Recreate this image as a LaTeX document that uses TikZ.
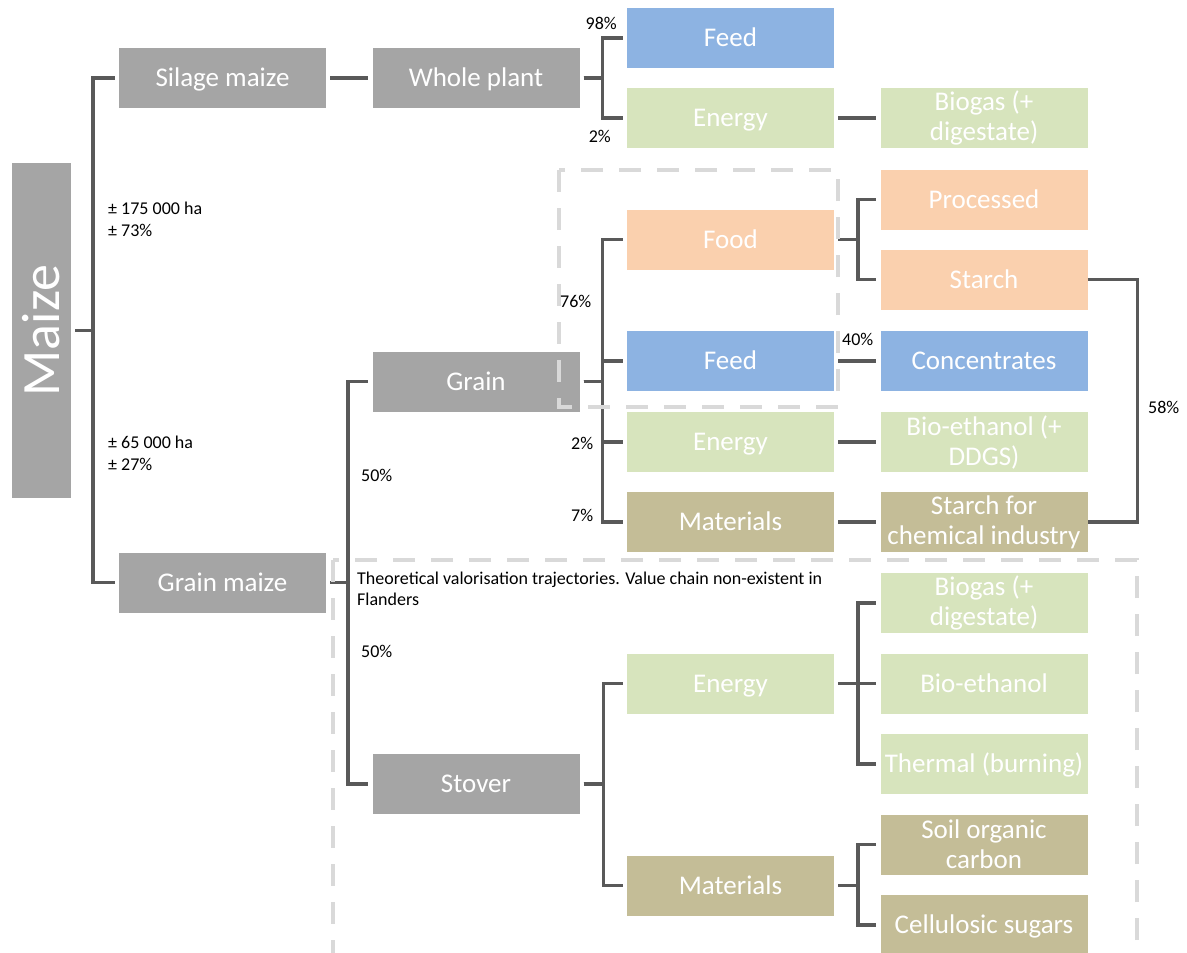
\documentclass[tikz,border=0pt]{standalone}
\usepackage{fontspec}
\setmainfont{Carlito}
\definecolor{boxgray}{HTML}{A5A5A5}
\definecolor{boxblue}{HTML}{8DB3E2}
\definecolor{boxgreen}{HTML}{D7E4BD}
\definecolor{boxorange}{HTML}{FAD0AE}
\definecolor{boxtan}{HTML}{C4BD97}
\definecolor{linegray}{HTML}{595959}
\definecolor{dashgray}{HTML}{D9D9D9}
\begin{document}
\begin{tikzpicture}[x=1pt,y=-1pt,
  boxbase/.style={minimum width=207pt, minimum height=60pt, inner sep=0pt, text=white, align=center, font=\fontsize{27}{30}\selectfont},
  box/.style={boxbase, text height=17.4pt, text depth=0pt},
  boxtwo/.style={boxbase},
  gray/.style={fill=boxgray},
  blue/.style={fill=boxblue},
  green/.style={fill=boxgreen},
  orange/.style={fill=boxorange},
  tan/.style={fill=boxtan},
  conn/.style={draw=linegray, line width=3.5pt, shorten <=4pt, shorten >=4pt},
  lbl/.style={font=\fontsize{18}{22}\selectfont, text=black, inner sep=0pt, align=left},
  zone/.style={draw=dashgray, line width=4.5pt, dash pattern=on 22pt off 16pt}]
\useasboundingbox (0,0) rectangle (1187,953);

% Maize
\node[fill=boxgray, minimum width=59pt, minimum height=335pt, inner sep=0pt] (maize) at (41.5,330.5) {};
\node[rotate=90, text=white, font=\fontsize{54}{60}\selectfont, inner sep=0pt] (maizelabel) at (maize.center) {Maize};

% column 1
\node[box,gray] (silage) at (222.5,78) {Silage maize};
\node[box,gray] (grainmaize) at (222.5,582.5) {Grain maize};

% column 2
\node[box,gray] (whole) at (476,78) {Whole plant};
\node[box,gray] (grain) at (476,381.5) {Grain};
\node[box,gray] (stover) at (476,784) {Stover};

% column 3
\node[box,blue] (feed1) at (730.5,38) {Feed};
\node[box,green] (energy1) at (730.5,118) {Energy};
\node[box,orange] (food) at (730.5,239.5) {Food};
\node[box,blue] (feed2) at (730.5,361) {Feed};
\node[box,green] (energy2) at (730.5,442) {Energy};
\node[box,tan] (mat1) at (730.5,522) {Materials};
\node[box,green] (energy3) at (730.5,683.5) {Energy};
\node[box,tan] (mat2) at (730.5,885.5) {Materials};

% column 4
\node[boxtwo,green] (biogas1) at (984,118) {Biogas (+\\digestate)};
\node[box,orange] (processed) at (984,199.5) {Processed};
\node[box,orange] (starch) at (984,279.5) {Starch};
\node[box,blue] (conc) at (984,361) {Concentrates};
\node[boxtwo,green] (bioeth2) at (984,442) {Bio-ethanol (+\\DDGS)};
\node[boxtwo,tan] (starchchem) at (984,522) {Starch for\\chemical industry};
\node[boxtwo,green] (biogas3) at (984,603) {Biogas (+\\digestate)};
\node[box,green] (bioeth3) at (984,683.5) {Bio-ethanol};
\node[box,green] (thermal) at (984,764) {Thermal (burning)};
\node[boxtwo,tan] (soil) at (984,844.5) {Soil organic\\carbon};
\node[box,tan] (cellu) at (984,925) {Cellulosic sugars};

% connectors
\draw[conn] (maize.east) -- ++(22,0) |- (silage.west);
\draw[conn] (maize.east) -- ++(22,0) |- (grainmaize.west);
\draw[conn] (silage.east) -- (whole.west);
\draw[conn] (whole.east) -- ++(23,0) |- (feed1.west);
\draw[conn] (whole.east) -- ++(23,0) |- (energy1.west);
\draw[conn] (energy1.east) -- (biogas1.west);
\draw[conn] (food.east) -- ++(24,0) |- (processed.west);
\draw[conn] (food.east) -- ++(24,0) |- (starch.west);
\draw[conn] (grain.east) -- ++(23,0) |- (food.west);
\draw[conn] (grain.east) -- ++(23,0) |- (feed2.west);
\draw[conn] (grain.east) -- ++(23,0) |- (energy2.west);
\draw[conn] (grain.east) -- ++(23,0) |- (mat1.west);
\draw[conn] (feed2.east) -- (conc.west);
\draw[conn] (energy2.east) -- (bioeth2.west);
\draw[conn] (mat1.east) -- (starchchem.west);
\draw[conn, shorten <=0pt, shorten >=0pt] (starch.east) -- ++(50,0) |- (starchchem.east);
\draw[conn] (grainmaize.east) -- ++(22,0) |- (grain.west);
\draw[conn] (grainmaize.east) -- ++(22,0) |- (stover.west);
\draw[conn] (stover.east) -- ++(24,0) |- (energy3.west);
\draw[conn] (stover.east) -- ++(24,0) |- (mat2.west);
\draw[conn] (energy3.east) -- ++(24,0) |- (biogas3.west);
\draw[conn] (energy3.east) -- ++(24,0) |- (bioeth3.west);
\draw[conn] (energy3.east) -- ++(24,0) |- (thermal.west);
\draw[conn] (mat2.east) -- ++(24,0) |- (soil.west);
\draw[conn] (mat2.east) -- ++(24,0) |- (cellu.west);

% dashed zones
\draw[zone] (559,170) rectangle (838,407);
\draw[zone] (333,560) rectangle (1137,975);

% labels
\node[lbl, anchor=west] (l175) at (108,219) {± 175 000 ha\\± 73\%};
\node[lbl, anchor=west] (l65) at (108,453) {± 65 000 ha\\± 27\%};
\node[lbl, anchor=east] (l98) at (617,23) {98\%};
\node[lbl, anchor=east] (l2a) at (611,136) {2\%};
\node[lbl, anchor=west] (l76) at (560,301) {76\%};
\node[lbl, anchor=west] (l40) at (842,339) {40\%};
\node[lbl, anchor=west] (l58) at (1148,407) {58\%};
\node[lbl, anchor=west] (l2b) at (571,443) {2\%};
\node[lbl, anchor=west] (l7) at (571,515) {7\%};
\node[lbl, anchor=west] (l50a) at (361,475) {50\%};
\node[lbl, anchor=west] (l50b) at (361,651) {50\%};
\node[lbl, anchor=north west, font=\fontsize{18}{21}\selectfont] (theo) at (357,572) {Theoretical valorisation trajectories. Value chain non-existent in\\Flanders};
\end{tikzpicture}
\end{document}
